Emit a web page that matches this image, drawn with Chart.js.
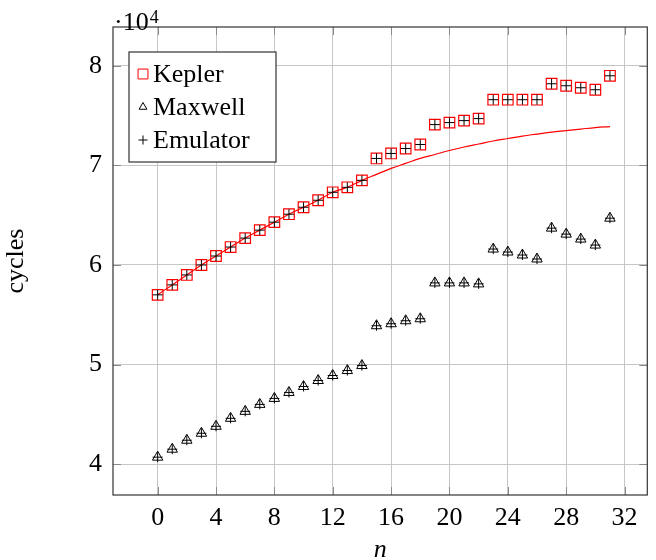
<!DOCTYPE html>
<html lang="en">

<head>
    <meta charset="UTF-8">
    <title>Cycles</title>
    <style>
        * {
            margin: 0;
            padding: 0;
        }

        body {
            background: #fff;
        }
    </style>
</head>

<body>
    <canvas id="myChart" width="656" height="560" style="width: 656px;height: 560px;"></canvas>
</body>
<script src="https://cdn.jsdelivr.net/npm/chart.js@4.4.1/dist/chart.umd.min.js"></script>

<script>
    const nValues = [0, 1, 2, 3, 4, 5, 6, 7, 8, 9, 10, 11, 12, 13, 14, 15,
        16, 17, 18, 19, 20, 21, 22, 23, 24, 25, 26, 27, 28, 29, 30, 31];
    const kepler = [57000, 58000, 59000, 60000, 60900, 61800, 62700, 63500, 64300, 65100, 65800, 66500, 67300, 67800, 68500, 70700,
        71200, 71700, 72100, 74100, 74300, 74500, 74700, 76600, 76600, 76600, 76600, 78200, 78000, 77800, 77600, 79000];
    const maxwell = [40700, 41500, 42400, 43100, 43800, 44600, 45300, 46000, 46600, 47200, 47800, 48400, 48900, 49400, 49900, 53900,
        54100, 54400, 54600, 58200, 58200, 58200, 58100, 61600, 61300, 61000, 60600, 63700, 63100, 62600, 62000, 64700];
    // red curve (same as Kepler up to n = 14, then flattens out)
    const keplerCurve = [57000, 58000, 59000, 60000, 60900, 61800, 62700, 63500, 64300, 65100, 65800, 66500, 67300, 67800, 68500, 69100,
        69700, 70200, 70700, 71100, 71500, 71850, 72150, 72450, 72700, 72950, 73150, 73350, 73500, 73650, 73800, 73900];
    const xTicks = [0, 4, 8, 12, 16, 20, 24, 28, 32];
    const yTicks = [40000, 50000, 60000, 70000, 80000];

    const serif = "'Liberation Serif', 'DejaVu Serif', serif";
    const pts = arr => arr.map((v, i) => ({ x: nValues[i], y: v }));

    const legendItems = [
        { text: 'Kepler', style: 'rect', color: 'red', radius: 7 },
        { text: 'Maxwell', style: 'triangle', color: 'black', radius: 4.5 },
        { text: 'Emulator', style: 'cross', color: 'black', radius: 4.5 }
    ];

    const framePlugin = {
        id: 'frame',
        afterDatasetsDraw(chart) {
            const ctx = chart.ctx;
            const a = chart.chartArea;
            const xs = chart.scales.x, ys = chart.scales.y;
            ctx.save();
            // inward tick marks
            ctx.strokeStyle = '#8a8a8a';
            ctx.lineWidth = 1;
            ctx.beginPath();
            xTicks.forEach(t => {
                const px = Math.round(xs.getPixelForValue(t)) + 0.5;
                ctx.moveTo(px, a.bottom); ctx.lineTo(px, a.bottom - 8);
                ctx.moveTo(px, a.top); ctx.lineTo(px, a.top + 8);
            });
            yTicks.forEach(t => {
                const py = Math.round(ys.getPixelForValue(t)) + 0.5;
                ctx.moveTo(a.left, py); ctx.lineTo(a.left + 8, py);
                ctx.moveTo(a.right, py); ctx.lineTo(a.right - 8, py);
            });
            ctx.stroke();
            ctx.strokeStyle = '#333';
            ctx.lineWidth = 1.2;
            ctx.strokeRect(a.left, a.top, a.right - a.left, a.bottom - a.top);
            ctx.restore();
        },
        afterDraw(chart) {
            const ctx = chart.ctx;
            const a = chart.chartArea;
            ctx.save();
            // exponent label
            ctx.fillStyle = '#000';
            ctx.textBaseline = 'alphabetic';
            ctx.textAlign = 'left';
            ctx.font = '26px ' + serif;
            ctx.fillText('\u00b710', a.left + 1, 30);
            const w = ctx.measureText('\u00b710').width;
            ctx.font = '18px ' + serif;
            ctx.fillText('4', a.left + w + 2, 23);

            // legend box
            const bx = 129, by = 52, bw = 147, bh = 110;
            ctx.fillStyle = '#fff';
            ctx.fillRect(bx, by, bw, bh);
            ctx.strokeStyle = '#333';
            ctx.lineWidth = 1.2;
            ctx.strokeRect(bx, by, bw, bh);
            legendItems.forEach((it, i) => {
                const cy = by + 22 + i * 33;
                ctx.fillStyle = 'rgba(0,0,0,0)';
                ctx.strokeStyle = it.color;
                ctx.lineWidth = 1;
                Chart.helpers.drawPoint(ctx, {
                    pointStyle: it.style, radius: it.radius, rotation: 0, borderWidth: 1
                }, 143, cy);
                ctx.fillStyle = '#000';
                ctx.font = '26px ' + serif;
                ctx.textBaseline = 'middle';
                ctx.fillText(it.text, 153, cy + 1);
            });
            ctx.restore();
        }
    };

    new Chart("myChart", {
        type: "scatter",
        data: {
            datasets: [{
                label: 'Emulator',
                data: pts(kepler).concat(pts(maxwell)),
                pointStyle: 'cross',
                pointRadius: 5,
                borderColor: '#000',
                backgroundColor: '#000',
                borderWidth: 1,
                showLine: false,
                order: 0
            }, {
                label: 'Kepler',
                data: pts(kepler),
                pointStyle: 'rect',
                pointRadius: 7.5,
                borderColor: 'red',
                backgroundColor: 'transparent',
                borderWidth: 1.2,
                showLine: false,
                order: 1
            }, {
                label: 'Maxwell',
                data: pts(maxwell),
                pointStyle: 'triangle',
                pointRadius: 6,
                borderColor: '#000',
                backgroundColor: 'transparent',
                borderWidth: 1,
                showLine: false,
                order: 2
            }, {
                label: 'curve',
                data: pts(keplerCurve),
                showLine: true,
                pointRadius: 0,
                borderColor: 'red',
                borderWidth: 1.2,
                backgroundColor: 'transparent',
                tension: 0.4,
                order: 3
            }]
        },
        options: {
            responsive: false,
            animation: false,
            events: [],
            layout: {
                padding: { left: 0, right: 4, top: 27, bottom: 0 }
            },
            plugins: {
                legend: { display: false },
                tooltip: { enabled: false }
            },
            scales: {
                x: {
                    type: 'linear',
                    min: -3.06,
                    max: 33.56,
                    afterBuildTicks: s => { s.ticks = xTicks.map(v => ({ value: v })); },
                    afterFit: s => { s.height = 65; },
                    grid: { color: '#c6c6c6', drawTicks: false },
                    border: { display: false },
                    ticks: {
                        padding: 8,
                        color: '#000',
                        font: { family: serif, size: 26 }
                    },
                    title: {
                        display: true,
                        text: 'n',
                        color: '#000',
                        padding: { top: 0, bottom: -3 },
                        font: { family: serif, size: 26, style: 'italic', lineHeight: 1 }
                    }
                },
                y: {
                    type: 'linear',
                    min: 36900,
                    max: 83900,
                    afterBuildTicks: s => { s.ticks = yTicks.map(v => ({ value: v })); },
                    afterFit: s => { s.width = 113; },
                    grid: { color: '#c6c6c6', drawTicks: false },
                    border: { display: false },
                    ticks: {
                        padding: 11,
                        color: '#000',
                        font: { family: serif, size: 26 },
                        callback: v => v / 10000
                    },
                    title: {
                        display: true,
                        text: 'cycles',
                        color: '#000',
                        padding: { top: 3, bottom: 0 },
                        font: { family: serif, size: 26, lineHeight: 1 }
                    }
                }
            }
        },
        plugins: [framePlugin]
    });
</script>

</html>
